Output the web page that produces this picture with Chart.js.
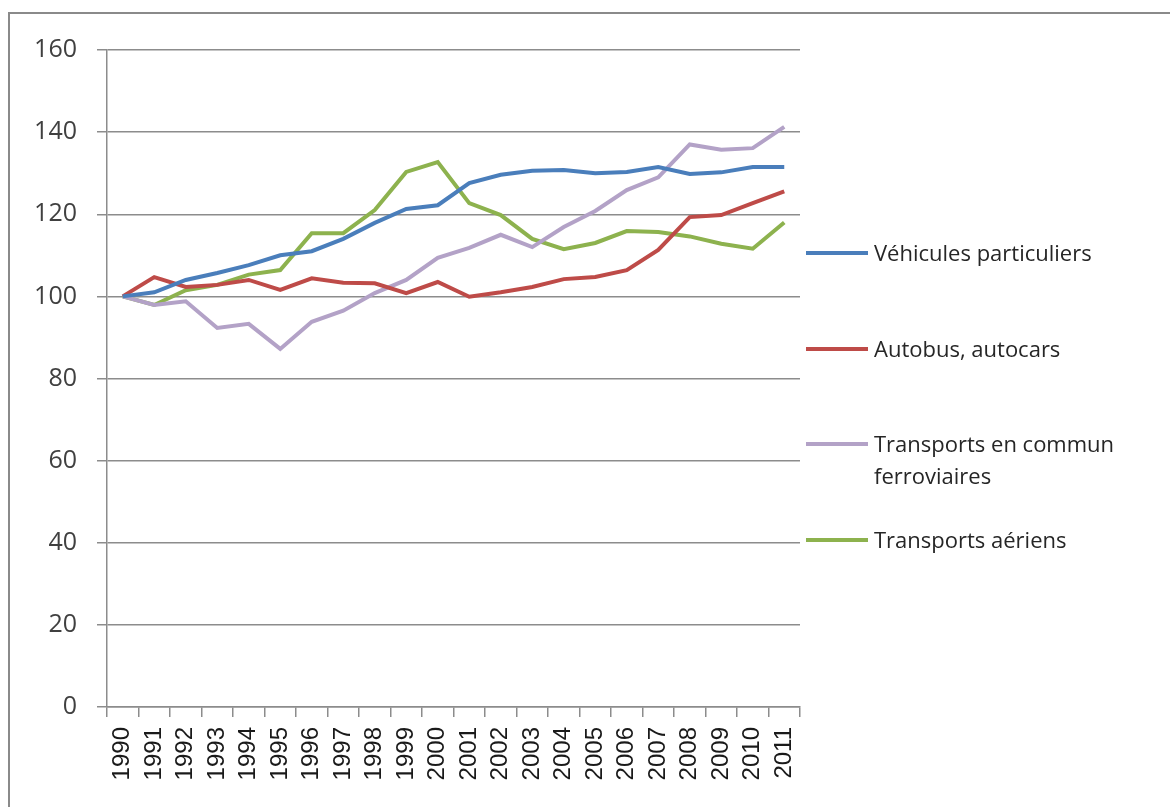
<!DOCTYPE html>
<html><head><meta charset="utf-8">
<script src="https://cdn.jsdelivr.net/npm/chart.js@4"></script>
<style>
html,body{margin:0;padding:0;background:#fff;}
#wrap{position:relative;width:1170px;height:807px;overflow:hidden;}
#frame{position:absolute;left:8px;top:12px;width:1170px;height:900px;border:2px solid #8a8a8a;box-sizing:border-box;}
canvas{position:absolute;left:0;top:0;}
#legend{position:absolute;left:806px;top:0;font-family:"Open Sans",sans-serif;font-size:22px;color:#262626;}
.item{position:absolute;left:0;white-space:nowrap;}
.sw{position:absolute;left:0;width:62px;height:4px;}
.tx{position:absolute;left:68px;line-height:32px;}
</style></head>
<body><div id="wrap"><div id="frame"></div><canvas id="c" width="1170" height="807"></canvas><div id="legend"></div></div>
<script>
const years = ["1990","1991","1992","1993","1994","1995","1996","1997","1998","1999","2000","2001","2002","2003","2004","2005","2006","2007","2008","2009","2010","2011"];
const vehicules = [100,101,104,105.7,107.6,110,111,114,117.9,121.3,122.2,127.6,129.6,130.6,130.8,130,130.3,131.5,129.8,130.2,131.5,131.5];
const autobus = [100,104.7,102.3,102.8,104,101.6,104.4,103.3,103.2,100.8,103.5,99.9,101,102.3,104.2,104.7,106.4,111.3,119.3,119.8,122.7,125.6];
const ferroviaires = [100,97.9,98.8,92.3,93.3,87.2,93.8,96.5,100.8,104,109.4,111.8,115,112,116.9,120.8,125.9,129,137,135.7,136.1,141.3];
const aeriens = [100,97.9,101.5,102.8,105.3,106.4,115.4,115.4,121,130.3,132.7,122.7,119.8,114,111.5,113,115.9,115.7,114.6,112.8,111.6,118];
const yTicks = [0,20,40,60,80,100,120,140,160];
const seriesNames = ["Véhicules particuliers","Autobus, autocars",["Transports en commun","ferroviaires"],"Transports aériens"];
const seriesColors = ["#4a7ebb","#be4b48","#b3a2c7","#8db24e"];
const seriesData = [vehicules, autobus, ferroviaires, aeriens];
const legendY = [253,349,444,540];

const datasets = seriesData.map((d,i)=>({
  label: Array.isArray(seriesNames[i]) ? seriesNames[i].join(" ") : seriesNames[i],
  data: d, borderColor: seriesColors[i], backgroundColor: seriesColors[i],
  borderWidth: 4, pointRadius: 0, tension: 0, fill:false
}));

new Chart(document.getElementById('c'), {
  type: 'line',
  data: { labels: years, datasets },
  options: {
    responsive: false, animation: false,
    layout: { padding: { left: 0, top: 50, right: 370, bottom: 0 } },
    plugins: { legend: { display: false }, tooltip: { enabled: false } },
    scales: {
      x: {
        offset: true,
        grid: { offset: true, drawOnChartArea: false, drawTicks: true, tickLength: 10, color: '#8c8c8c', lineWidth: 1.5 },
        border: { color: '#8c8c8c', width: 1.5 },
        ticks: { maxRotation: 90, minRotation: 90, autoSkip: false, padding: 10, color: '#1a1a1a',
                 font: { family: '"Liberation Sans", Arial, sans-serif', size: 24 } },
        afterFit: s => { s.height = 100; }
      },
      y: {
        min: 0, max: 160,
        afterBuildTicks: s => { s.ticks = yTicks.map(v => ({ value: v })); },
        grid: { color: '#8c8c8c', lineWidth: 1.5, tickLength: 10 },
        border: { color: '#8c8c8c', width: 1.5 },
        ticks: { padding: 20, color: '#404040', font: { family: '"Open Sans", sans-serif', size: 25 } },
        afterFit: s => { s.width = 107; }
      }
    }
  }
});

const lg = document.getElementById('legend');
seriesNames.forEach((n,i)=>{
  const it = document.createElement('div'); it.className='item'; it.style.top = legendY[i] + 'px';
  const sw = document.createElement('div'); sw.className='sw'; sw.style.background = seriesColors[i]; sw.style.top='-2px';
  const tx = document.createElement('div'); tx.className='tx'; tx.style.top='-17px';
  tx.innerHTML = (Array.isArray(n) ? n : [n]).join('<br>');
  it.appendChild(sw); it.appendChild(tx); lg.appendChild(it);
});
</script></body></html>
